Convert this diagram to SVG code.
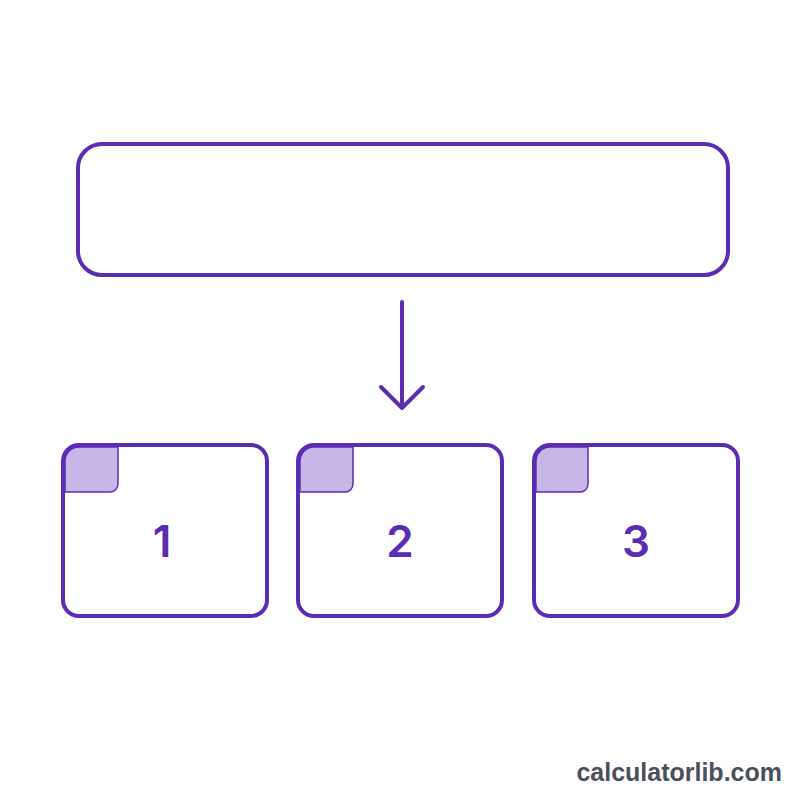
<svg xmlns="http://www.w3.org/2000/svg" width="800" height="800" viewBox="0 0 800 800">
<style>
.box{fill:#fff;stroke:#5b2cb4;stroke-width:4}
.tab{fill:#c8b7e6;stroke:#5b2cb4;stroke-width:1.5}
.num{font-family:"Inter","Liberation Sans",sans-serif;font-size:44px;font-weight:600;fill:#5b2cb4;text-anchor:middle}
.conn{fill:none;stroke:#5b2cb4;stroke-width:4;stroke-linecap:round;stroke-linejoin:round}
</style>
<rect width="800" height="800" fill="#fff"/>
<g id="top"><rect class="box" x="78" y="144" width="650" height="131" rx="24"/></g>
<g id="connectors">
<path class="conn" d="M402 302 V408 M381 387 L402 408 L423 387"/>
</g>
<g id="n1">
<rect class="box" x="63" y="445" width="204" height="171" rx="16"/>
<path class="tab" d="M65 461 A14 14 0 0 1 79 447 H118 V484 A8 8 0 0 1 110 492 H65 Z"/>
<text class="num" x="162" y="557">1</text>
</g>
<g id="n2">
<rect class="box" x="298" y="445" width="204" height="171" rx="16"/>
<path class="tab" d="M300 461 A14 14 0 0 1 314 447 H353 V484 A8 8 0 0 1 345 492 H300 Z"/>
<text class="num" x="400" y="557">2</text>
</g>
<g id="n3">
<rect class="box" x="534" y="445" width="204" height="171" rx="16"/>
<path class="tab" d="M536 461 A14 14 0 0 1 550 447 H588 V484 A8 8 0 0 1 580 492 H536 Z"/>
<text class="num" x="636" y="557">3</text>
</g>
<text x="782" y="781" font-family="'Liberation Sans',Arial,sans-serif" font-size="25" font-weight="bold" fill="#4a4f5c" text-anchor="end">calculatorlib.com</text>
</svg>
